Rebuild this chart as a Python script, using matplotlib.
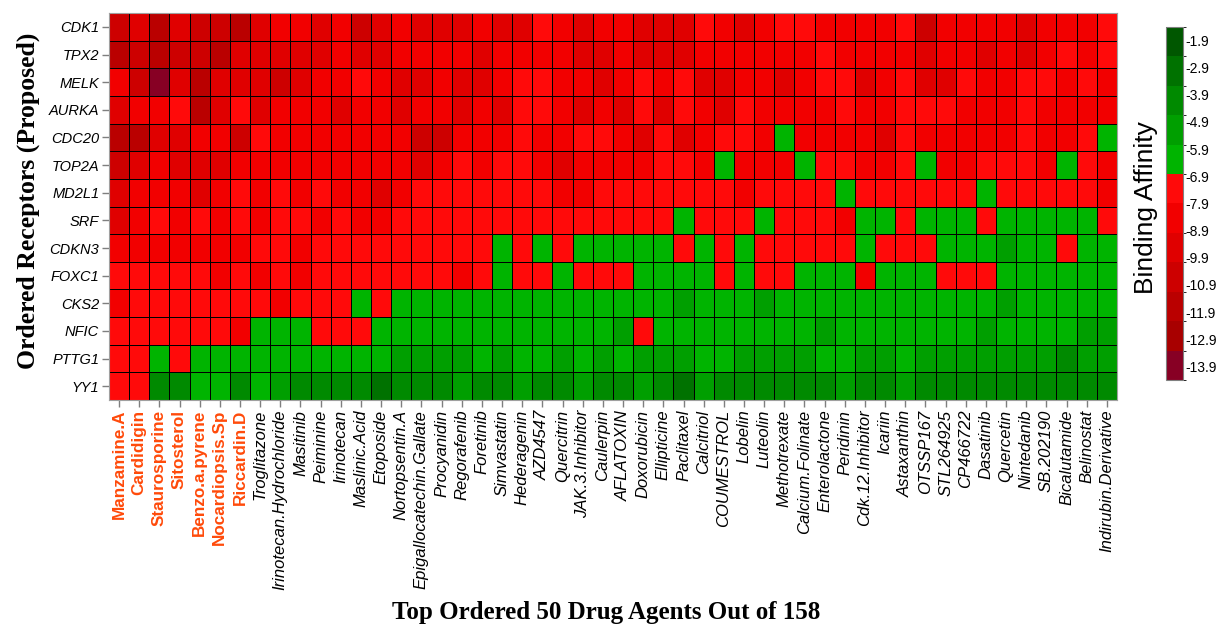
import numpy as np
import matplotlib
matplotlib.use("Agg")
import matplotlib.pyplot as plt
from matplotlib.colors import ListedColormap, BoundaryNorm

# receptors (rows, top to bottom) and the 50 top-ranked drug agents (columns)
receptors = ["CDK1", "TPX2", "MELK", "AURKA", "CDC20", "TOP2A", "MD2L1",
             "SRF", "CDKN3", "FOXC1", "CKS2", "NFIC", "PTTG1", "YY1"]

drugs = ["Manzamine.A", "Cardidigin", "Staurosporine", "Sitosterol", "Benzo.a.pyrene",
         "Nocardiopsis.Sp", "Riccardin.D", "Troglitazone", "Irinotecan.Hydrochloride",
         "Masitinib", "Peiminine", "Irinotecan", "Maslinic.Acid", "Etoposide",
         "Nortopsentin.A", "Epigallocatechin.Gallate", "Procyanidin", "Regorafenib",
         "Foretinib", "Simvastatin", "Hederagenin", "AZD4547", "Quercitrin",
         "JAK.3.Inhibitor", "Caulerpin", "AFLATOXIN", "Doxorubicin", "Ellipticine",
         "Paclitaxel", "Calcitriol", "COUMESTROL", "Lobelin", "Luteolin", "Methotrexate",
         "Calcium.Folinate", "Enterolactone", "Peridinin", "Cdk.12.Inhibitor", "Icariin",
         "Astaxanthin", "OTSSP167", "STL264925", "CP466722", "Dasatinib", "Quercetin",
         "Nintedanib", "SB.202190", "Bicalutamide", "Belinostat", "Indirubin.Derivative"]

# highlighted (proposed) agents
n_highlight = 7

# docking scores (kcal/mol), one row per receptor
affinity = [
    # CDK1
    [-10.6, -9.5, -11.7, -9.5, -10.6, -10.6, -11.7, -9.5, -8.4, -8.3, -9.5, -8.4, -10.6, -9.5, -8.4,
     -9.5, -9.5, -9.4, -8.4, -9.5, -9.5, -7.4, -8.4, -9.5, -8.4, -8.5, -9.5, -9.6, -9.5, -7.4,
     -8.4, -9.5, -8.4, -7.4, -7.5, -8.4, -8.4, -8.3, -8.4, -7.4, -10.6, -8.4, -8.4, -8.5, -8.4,
     -9.5, -8.4, -8.4, -8.4, -7.4],
    # TPX2
    [-11.7, -10.6, -11.7, -10.6, -10.6, -11.7, -9.5, -9.5, -9.5, -9.4, -9.5, -8.4, -9.5, -9.5, -8.4,
     -8.4, -8.4, -8.4, -9.5, -8.4, -8.4, -8.3, -8.4, -9.5, -9.5, -8.4, -9.5, -9.5, -9.6, -8.4,
     -8.4, -8.4, -8.5, -8.4, -8.4, -7.4, -8.4, -8.4, -8.4, -8.4, -9.5, -8.4, -8.4, -9.5, -8.4,
     -9.5, -8.4, -7.4, -8.4, -7.4],
    # MELK
    [-8.4, -10.6, -13.8, -9.5, -11.7, -9.5, -9.5, -9.4, -10.6, -9.5, -8.4, -8.4, -7.4, -8.4, -9.5,
     -9.5, -8.4, -9.5, -9.5, -8.4, -7.4, -7.3, -8.4, -8.4, -9.5, -8.4, -7.4, -8.4, -7.4, -9.5,
     -9.5, -8.4, -8.4, -9.5, -8.4, -7.4, -7.4, -9.5, -8.4, -7.4, -9.5, -9.5, -7.4, -8.4, -8.4,
     -7.4, -7.4, -8.4, -7.4, -8.4],
    # AURKA
    [-9.5, -8.4, -8.4, -7.4, -11.7, -9.5, -7.4, -9.5, -8.4, -8.4, -8.4, -9.5, -8.4, -8.4, -9.5,
     -8.4, -8.4, -9.5, -8.4, -9.5, -7.4, -7.4, -8.4, -9.5, -8.4, -9.5, -7.4, -9.5, -7.4, -8.4,
     -9.5, -7.4, -8.4, -8.4, -8.4, -8.4, -7.4, -8.4, -8.4, -7.4, -7.4, -7.4, -8.4, -8.4, -8.4,
     -7.4, -8.4, -8.4, -8.4, -8.4],
    # CDC20
    [-11.7, -11.8, -9.5, -9.5, -8.4, -8.4, -10.6, -7.4, -8.4, -8.4, -8.4, -8.4, -8.4, -8.4, -8.4,
     -10.6, -10.6, -8.4, -8.4, -8.4, -7.4, -8.4, -8.4, -7.4, -7.4, -8.4, -9.5, -7.4, -9.5, -8.4,
     -7.4, -7.4, -8.4, -6.3, -8.4, -8.4, -8.4, -8.4, -9.5, -7.4, -8.4, -8.4, -8.4, -8.4, -8.4,
     -7.4, -8.4, -8.4, -7.4, -6.3],
    # TOP2A
    [-10.6, -9.5, -8.4, -9.5, -9.5, -9.5, -8.4, -8.4, -8.4, -8.4, -8.4, -8.4, -8.4, -8.4, -8.4,
     -9.5, -8.4, -7.4, -8.4, -7.4, -7.4, -8.4, -9.5, -8.4, -8.4, -8.4, -8.4, -7.4, -7.4, -8.4,
     -6.3, -8.4, -8.4, -8.4, -6.3, -7.4, -7.4, -8.4, -8.4, -7.4, -6.3, -8.4, -8.4, -7.4, -7.4,
     -7.4, -8.4, -6.3, -7.4, -8.4],
    # MD2L1
    [-9.5, -8.4, -8.4, -8.4, -9.5, -8.4, -7.4, -8.4, -7.4, -8.4, -7.4, -8.4, -8.4, -9.5, -8.4,
     -7.4, -7.4, -7.4, -7.4, -7.4, -7.4, -7.4, -8.4, -8.4, -7.4, -7.4, -7.4, -7.4, -7.4, -7.4,
     -7.4, -8.4, -7.4, -7.4, -7.4, -7.4, -6.3, -7.4, -7.4, -7.4, -7.4, -7.4, -7.4, -6.3, -7.4,
     -7.4, -7.4, -7.4, -7.4, -8.4],
    # SRF
    [-9.5, -8.4, -7.4, -8.4, -7.4, -8.4, -7.4, -8.4, -7.4, -7.4, -8.4, -7.4, -8.4, -8.4, -7.4,
     -7.4, -7.4, -7.4, -7.4, -7.4, -7.4, -7.4, -7.4, -7.4, -7.4, -7.4, -7.4, -7.4, -6.3, -7.4,
     -7.4, -7.4, -6.3, -7.4, -7.4, -7.4, -8.4, -6.3, -6.3, -7.4, -6.3, -6.3, -6.3, -7.4, -6.3,
     -6.3, -6.3, -6.3, -6.3, -7.4],
    # CDKN3
    [-8.4, -8.4, -8.4, -8.4, -8.4, -8.4, -8.4, -7.4, -7.4, -8.4, -7.4, -7.4, -7.4, -7.4, -7.4,
     -7.4, -7.4, -7.4, -7.4, -6.3, -7.4, -6.3, -7.4, -6.3, -6.3, -6.3, -6.3, -6.3, -7.4, -6.3,
     -7.4, -6.3, -7.4, -7.4, -7.4, -7.4, -7.4, -6.3, -7.4, -7.4, -7.4, -6.3, -6.3, -6.3, -5.2,
     -6.3, -6.3, -7.4, -6.3, -6.3],
    # FOXC1
    [-7.4, -7.4, -7.4, -7.4, -7.4, -8.4, -7.4, -8.4, -7.4, -8.4, -7.4, -7.4, -7.4, -7.4, -7.4,
     -7.4, -7.4, -8.4, -7.4, -6.3, -7.4, -7.4, -6.3, -7.4, -7.4, -7.4, -6.3, -6.3, -6.3, -6.3,
     -7.4, -6.3, -7.4, -7.4, -6.3, -6.3, -6.3, -8.4, -6.3, -6.3, -6.3, -7.4, -7.4, -7.4, -6.3,
     -6.3, -6.3, -6.3, -6.3, -6.3],
    # CKS2
    [-8.4, -7.4, -7.4, -7.4, -7.4, -7.4, -7.4, -7.4, -8.4, -7.4, -7.4, -7.4, -6.3, -7.4, -6.3,
     -6.3, -6.3, -6.3, -6.3, -6.3, -6.3, -6.3, -6.3, -6.3, -6.3, -6.3, -6.3, -6.3, -5.2, -6.3,
     -6.3, -6.3, -5.2, -6.3, -6.3, -6.3, -6.3, -6.3, -6.3, -6.3, -6.3, -6.3, -6.3, -6.3, -5.2,
     -6.3, -6.3, -6.3, -6.3, -6.3],
    # NFIC
    [-7.4, -7.4, -7.4, -7.4, -7.4, -7.4, -8.4, -6.3, -6.3, -6.3, -7.4, -7.4, -7.4, -6.3, -6.3,
     -6.3, -6.3, -6.3, -6.3, -6.3, -6.3, -6.3, -6.3, -6.3, -6.3, -5.2, -7.4, -6.3, -6.3, -6.3,
     -6.3, -6.3, -6.3, -6.3, -6.3, -5.2, -6.3, -6.3, -6.3, -6.3, -6.3, -6.3, -6.3, -5.2, -6.3,
     -6.3, -6.3, -6.3, -5.2, -5.2],
    # PTTG1
    [-7.4, -7.4, -6.3, -7.4, -6.3, -6.3, -6.3, -6.3, -6.3, -6.3, -6.3, -6.3, -6.3, -6.3, -5.2,
     -5.2, -5.2, -5.2, -6.3, -5.2, -6.3, -6.3, -5.2, -6.3, -5.2, -6.3, -5.2, -5.2, -5.2, -6.3,
     -6.3, -5.2, -5.2, -5.2, -5.2, -6.3, -6.3, -5.2, -5.2, -6.3, -5.2, -5.2, -5.2, -5.2, -5.2,
     -5.2, -5.2, -4.1, -5.2, -5.2],
    # YY1
    [-7.4, -7.4, -4.1, -4.1, -6.3, -6.3, -4.1, -6.3, -5.2, -4.1, -4.1, -4.1, -4.1, -3.0, -4.1,
     -4.1, -4.1, -5.2, -4.1, -4.1, -5.2, -4.1, -4.1, -5.2, -4.1, -4.1, -5.2, -4.1, -3.0, -5.2,
     -4.1, -4.1, -4.1, -4.1, -4.1, -4.1, -5.2, -4.1, -4.1, -5.2, -4.1, -4.1, -4.1, -4.1, -4.1,
     -4.1, -4.1, -4.1, -4.1, -4.1],
]

# colour key: 12 bins, deep red (strong) -> dark green (weak)
bin_colors = ["#870024", "#a80000", "#ba0000", "#cd0000", "#e00000", "#f20000",
              "#ff0a0a", "#00b400", "#009f00", "#008a00", "#007200", "#005700"]
bin_edges = np.linspace(-14.4, -1.4, 13)
key_ticks = [-1.9, -2.9, -3.9, -4.9, -5.9, -6.9, -7.9, -8.9, -9.9, -10.9, -11.9, -12.9, -13.9]

cmap = ListedColormap(bin_colors)
norm = BoundaryNorm(bin_edges, cmap.N)

data = np.array(affinity)
nrow, ncol = data.shape

fig = plt.figure(figsize=(12.19, 6.26), dpi=100)
ax = fig.add_axes([0.0894, 0.361, 0.8269, 0.618])

mesh = ax.pcolormesh(np.arange(ncol + 1), np.arange(nrow + 1), data,
                     cmap=cmap, norm=norm, edgecolors="black", linewidth=0.6)
ax.set_xlim(0, ncol)
ax.set_ylim(nrow, 0)

ax.set_yticks(np.arange(nrow) + 0.5)
ax.set_yticklabels(receptors, fontfamily="Liberation Sans", fontstyle="italic", fontsize=10.5)
ax.set_xticks(np.arange(ncol) + 0.5)
ax.set_xticklabels(drugs, rotation=90, fontfamily="Liberation Sans",
                   fontstyle="italic", fontsize=12)
for lbl in ax.get_xticklabels()[:n_highlight]:
    lbl.set_fontstyle("normal")
    lbl.set_fontweight("bold")
    lbl.set_color("#ff4a0a")
    lbl.set_fontsize(12.3)

ax.tick_params(axis="both", length=5, width=1, color="#7f7f7f", pad=2)
for sp in ax.spines.values():
    sp.set_color("#a0a0a0")
    sp.set_linewidth(0.8)

fig.text(0.023, 0.679, "Ordered Receptors (Proposed)", rotation=90, ha="center", va="center",
         fontfamily="Liberation Serif", fontweight="bold", fontsize=18.5)
fig.text(0.497, 0.022, "Top Ordered 50 Drug Agents Out of 158", ha="center", va="center",
         fontfamily="Liberation Serif", fontweight="bold", fontsize=18)

# colour key on the right
cax = fig.add_axes([0.9565, 0.393, 0.0140, 0.564])
cb = fig.colorbar(mesh, cax=cax, ticks=key_ticks)
cb.ax.set_yticklabels([f"{t:.1f}" for t in key_ticks], fontfamily="Liberation Sans", fontsize=10)
cb.ax.tick_params(length=0, pad=2)
cb.outline.set_edgecolor("#808080")
cb.outline.set_linewidth(0.8)
fig.text(0.940, 0.668, "Binding Affinity", rotation=90, ha="center", va="center",
         fontfamily="Liberation Sans", fontsize=19)

fig.savefig("out.png", dpi=100)
